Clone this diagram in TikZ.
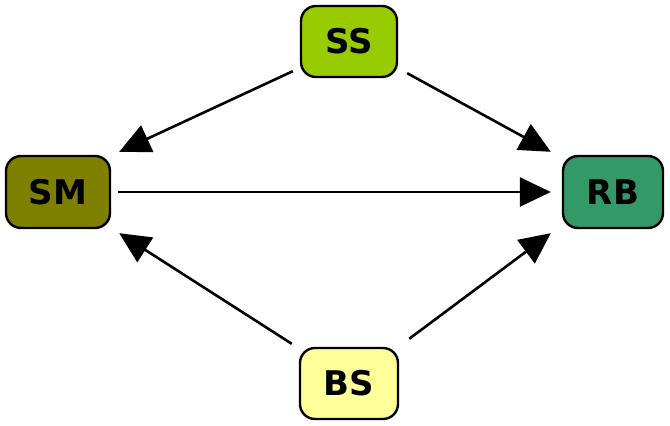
\documentclass[tikz,border=0pt]{standalone}
\usepackage{fontspec}
\setmainfont{DejaVu Sans}
\usetikzlibrary{arrows.meta}
\definecolor{ssfill}{HTML}{99CC00}
\definecolor{smfill}{HTML}{808000}
\definecolor{rbfill}{HTML}{339966}
\definecolor{bsfill}{HTML}{FFFF99}
\tikzset{
  box/.style={draw=black, line width=2.4pt, rounded corners=15pt, inner sep=0pt,
    font=\fontsize{34}{34}\selectfont\bfseries},
  conn/.style={line width=2.6pt, -{Triangle[length=31pt,width=29pt]}}
}
\begin{document}
\begin{tikzpicture}[x=1pt,y=-1pt]
\useasboundingbox (0,0) rectangle (670,426);
\node[box, fill=ssfill, minimum width=96pt, minimum height=71pt] (SS) at (349,41.5) {SS};
\node[box, fill=smfill, minimum width=104pt, minimum height=72pt] (SM) at (58,192) {SM};
\node[box, fill=rbfill, minimum width=100pt, minimum height=72pt] (RB) at (613,192) {RB};
\node[box, fill=bsfill, minimum width=98pt, minimum height=71pt] (BS) at (349,383.5) {BS};
\draw[conn] ([shift={(-7,-7)}]SS.south west) -- ([shift={(8,-3)}]SM.north east);
\draw[conn] ([shift={(9,-5)}]SS.south east) -- ([shift={(-11,-3)}]RB.north west);
\draw[conn] ([shift={(7,0)}]SM.east) -- ([shift={(-11,0)}]RB.west);
\draw[conn] ([shift={(-7,-3)}]BS.north west) -- ([shift={(8,4)}]SM.south east);
\draw[conn] ([shift={(10,-8)}]BS.north east) -- ([shift={(-11,4)}]RB.south west);
\end{tikzpicture}
\end{document}
